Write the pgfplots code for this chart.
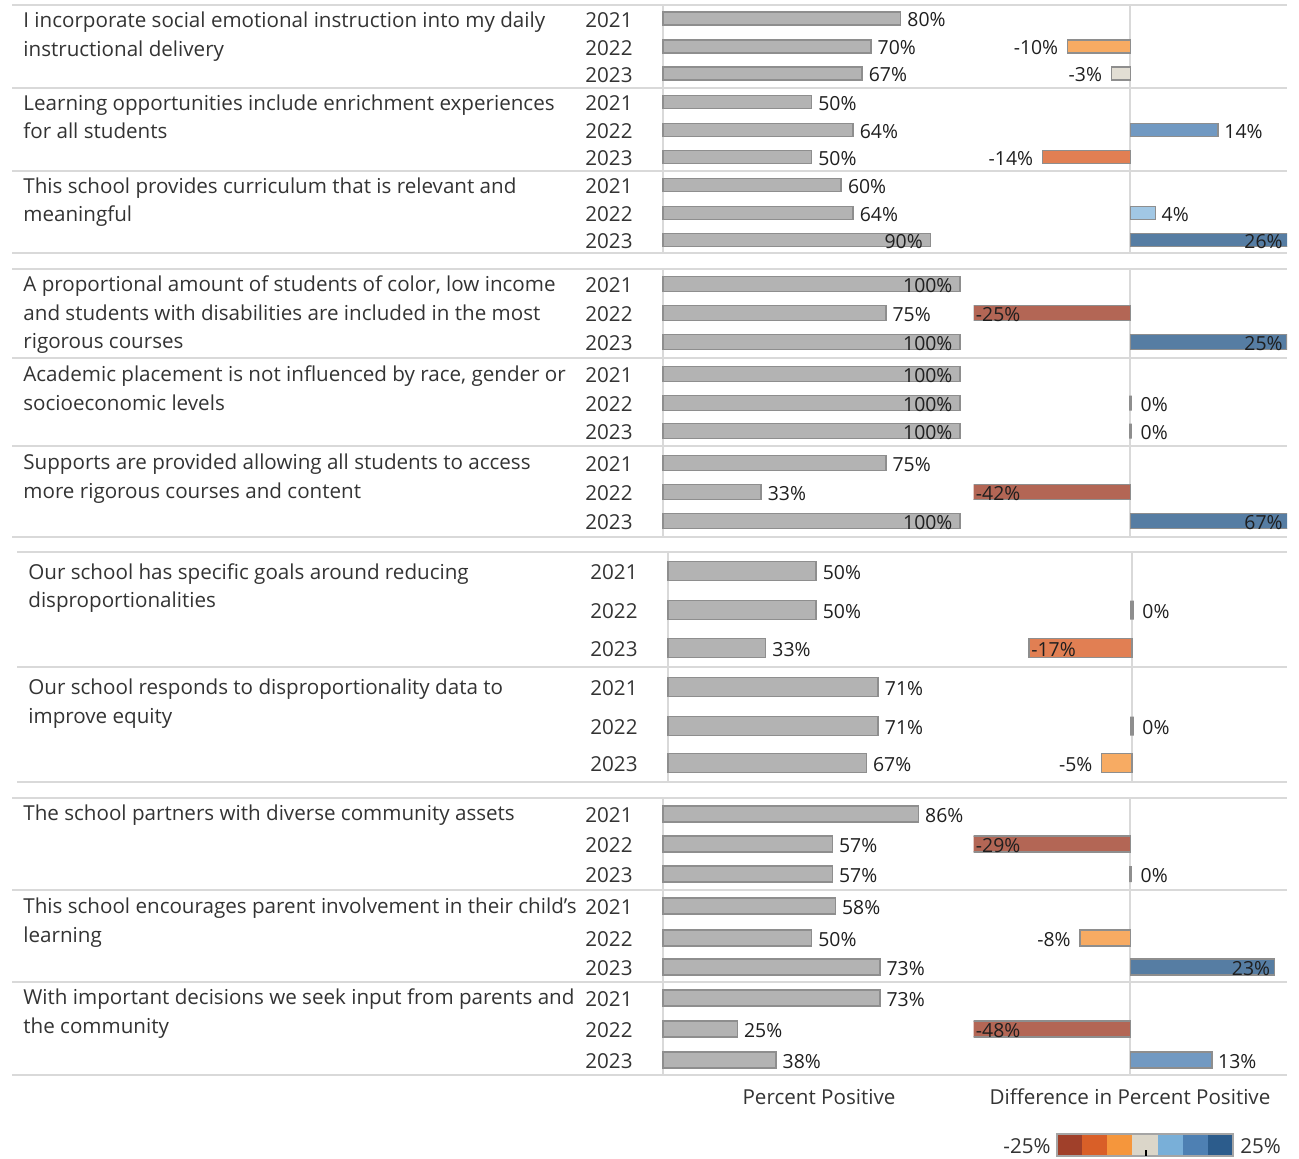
\documentclass[border=0pt]{standalone}
\usepackage{fontspec}
\setmainfont{Open Sans}
\usepackage{pgfplots}
\pgfplotsset{compat=1.18}

\definecolor{barfill}{HTML}{B3B3B3}
\definecolor{barline}{HTML}{8E8E8E}
\definecolor{gridc}{HTML}{D9D9D9}
\definecolor{txtc}{HTML}{333333}
\definecolor{lblc}{HTML}{1F1F1F}
\definecolor{L1}{HTML}{A0402A}
\definecolor{L2}{HTML}{D95F28}
\definecolor{L3}{HTML}{F5963C}
\definecolor{L4}{HTML}{DBD6C9}
\definecolor{L5}{HTML}{79AFD8}
\definecolor{L6}{HTML}{4E80B3}
\definecolor{L7}{HTML}{2C5C8C}
\colorlet{dR}{L1!80!white}
\colorlet{dO}{L2!80!white}
\colorlet{lO}{L3!80!white}
\colorlet{Nn}{L4!80!white}
\colorlet{lB}{L5!70!white}
\colorlet{mB}{L6!80!white}
\colorlet{dB}{L7!80!white}

\pgfplotsset{
  base/.style={scale only axis, hide axis, y dir=reverse, xbar, bar shift=0pt, anchor=north west},
  pct/.style={base, xmin=0, xmax=100, clip=false},
  dif/.style={base, xmin=-25, xmax=25, clip=true},
  pbar/.style={draw=barline, fill=barfill, line width=0.75pt},
  dbar/.style={draw=barline, line width=0.75pt},
  zbar/.style={draw=barline, fill=barline, line width=1.7pt},
}
\tikzset{lbl/.style={inner sep=0pt, text=lblc, yshift=-0.6pt, font=\fontsize{9.7}{11}\selectfont}}
% percent labels
\newcommand\po[3]{\node[lbl,anchor=west,xshift=3.2pt] at (axis cs:#1,#2) {#3};}
\newcommand\pin[3]{\node[lbl,anchor=east,xshift=-3.6pt] at (axis cs:#1,#2) {#3};}
% difference labels
\newcommand\dl[3]{\node[lbl,anchor=east,xshift=-4.5pt] at (axis cs:#1,#2) {#3};}
\newcommand\dr[3]{\node[lbl,anchor=west,xshift=3pt] at (axis cs:#1,#2) {#3};}
\newcommand\dil[3]{\node[lbl,anchor=west,xshift=1pt] at (axis cs:#1,#2) {#3};}
\newcommand\dir[3]{\node[lbl,anchor=east,xshift=-2pt] at (axis cs:#1,#2) {#3};}
\newcommand\db[3]{\addplot[dbar, fill=#1] coordinates {(#2,#3)};}
\newcommand\dz[1]{\addplot[zbar] coordinates {(0,#1)};\node[lbl,anchor=west,xshift=5pt] at (axis cs:0,#1) {0\%};}

\begin{document}
\begin{tikzpicture}[font=\fontsize{10.3}{12}\selectfont]
\begin{scope}[x=0.5pt,y=-0.5pt]
\useasboundingbox (0,0) rectangle (1299,1158);
\foreach \yy in {5,88,171,253,269,358,446,537,798,890,982,1075}
  \draw[gridc,line width=0.8pt] (12,\yy)--(1287,\yy);
\foreach \yy in {552,667,782}
  \draw[gridc,line width=0.8pt] (17,\yy)--(1287,\yy);
\foreach \a/\b in {5/253,269/537,798/1075}{
  \draw[gridc,line width=0.7pt] (663,\a)--(663,\b);
  \draw[gridc,line width=0.7pt] (1130,\a)--(1130,\b);}
\draw[gridc,line width=0.7pt] (668,552)--(668,782);
\draw[gridc,line width=0.7pt] (1132,552)--(1132,782);
\end{scope}

% ---------------- Panel 1 ----------------
\begin{axis}[pct, at={(331.5pt,-2.5pt)}, width=148.5pt, height=124pt, ymin=5, ymax=253, bar width=13]
\addplot[pbar] coordinates {(80,18.5) (70,46.5) (67,73.5) (50,102) (64,130) (50,157) (60,185) (64,213) (90,240)};
\po{80}{18.5}{80\%}\po{70}{46.5}{70\%}\po{67}{73.5}{67\%}
\po{50}{102}{50\%}\po{64}{130}{64\%}\po{50}{157}{50\%}
\po{60}{185}{60\%}\po{64}{213}{64\%}\pin{90}{240}{90\%}
\end{axis}
\begin{axis}[dif, at={(486.75pt,-2.5pt)}, width=156.75pt, height=124pt, ymin=5, ymax=253, bar width=13]
\db{lO}{-10}{46.5}\dl{-10}{46.5}{-10\%}
\db{Nn}{-3}{73.5}\dl{-3}{73.5}{-3\%}
\db{mB}{14}{130}\dr{14}{130}{14\%}
\db{dO}{-14}{157}\dl{-14}{157}{-14\%}
\db{lB}{4}{213}\dr{4}{213}{4\%}
\db{dB}{26}{240}\dir{25}{240}{26\%}
\end{axis}

% ---------------- Panel 2 ----------------
\begin{axis}[pct, at={(331.5pt,-134.5pt)}, width=148.5pt, height=134pt, ymin=269, ymax=537, bar width=15]
\addplot[pbar] coordinates {(100,284) (75,313) (100,342) (100,374) (100,403) (100,431) (75,463) (33,492) (100,521)};
\pin{100}{284}{100\%}\po{75}{313}{75\%}\pin{100}{342}{100\%}
\pin{100}{374}{100\%}\pin{100}{403}{100\%}\pin{100}{431}{100\%}
\po{75}{463}{75\%}\po{33}{492}{33\%}\pin{100}{521}{100\%}
\end{axis}
\begin{axis}[dif, at={(486.75pt,-134.5pt)}, width=156.75pt, height=134pt, ymin=269, ymax=537, bar width=15]
\db{dR}{-25}{313}\dil{-25}{313}{-25\%}
\db{dB}{25}{342}\dir{25}{342}{25\%}
\dz{403}
\dz{431}
\db{dR}{-42}{492}\dil{-25}{492}{-42\%}
\db{dB}{67}{521}\dir{25}{521}{67\%}
\end{axis}

% ---------------- Panel 3 ----------------
\begin{axis}[pct, at={(334pt,-276pt)}, width=148pt, height=115pt, ymin=552, ymax=782, bar width=19]
\addplot[pbar] coordinates {(50,571) (50,610) (33,648) (71,687) (71,726) (67,763)};
\po{50}{571}{50\%}\po{50}{610}{50\%}\po{33}{648}{33\%}
\po{71}{687}{71\%}\po{71}{726}{71\%}\po{67}{763}{67\%}
\end{axis}
\begin{axis}[dif, at={(490.25pt,-276pt)}, width=151.5pt, height=115pt, ymin=552, ymax=782, bar width=19]
\dz{610}
\db{dO}{-17}{648}\dil{-17}{648}{-17\%}
\dz{726}
\db{lO}{-5}{763}\dl{-5}{763}{-5\%}
\end{axis}

% ---------------- Panel 4 ----------------
\begin{axis}[pct, at={(331.5pt,-399pt)}, width=148.5pt, height=138.5pt, ymin=798, ymax=1075, bar width=16]
\addplot[pbar] coordinates {(86,814) (57,844) (57,874) (58,906) (50,938) (73,967) (73,998) (25,1029) (38,1060)};
\po{86}{814}{86\%}\po{57}{844}{57\%}\po{57}{874}{57\%}
\po{58}{906}{58\%}\po{50}{938}{50\%}\po{73}{967}{73\%}
\po{73}{998}{73\%}\po{25}{1029}{25\%}\po{38}{1060}{38\%}
\end{axis}
\begin{axis}[dif, at={(486.75pt,-399pt)}, width=156.75pt, height=138.5pt, ymin=798, ymax=1075, bar width=16]
\db{dR}{-29}{844}\dil{-25}{844}{-29\%}
\dz{874}
\db{lO}{-8}{938}\dl{-8}{938}{-8\%}
\db{dB}{23}{967}\dir{23}{967}{23\%}
\db{dR}{-48}{1029}\dil{-25}{1029}{-48\%}
\db{mB}{13}{1060}\dr{13}{1060}{13\%}
\end{axis}

% ---------------- Text ----------------
\begin{scope}[x=0.5pt,y=-0.5pt, every node/.style={inner sep=0pt, text=txtc}]
\newcommand\q[3]{\node[anchor=base west] at (#1,#2+7) {#3};}
% questions
\q{23}{20}{I incorporate social emotional instruction into my daily}
\q{23}{49}{instructional delivery}
\q{23}{103}{Learning opportunities include enrichment experiences}
\q{23}{131}{for all students}
\q{23}{186}{This school provides curriculum that is relevant and}
\q{23}{214}{meaningful}
\q{23}{284}{A proportional amount of students of color, low income}
\q{23}{313}{and students with disabilities are included in the most}
\q{23}{341}{rigorous courses}
\q{23}{374}{Academic placement is not influenced by race, gender or}
\q{23}{403}{socioeconomic levels}
\q{23}{462}{Supports are provided allowing all students to access}
\q{23}{491}{more rigorous courses and content}
\q{28}{572}{Our school has specific goals around reducing}
\q{28}{600}{disproportionalities}
\q{28}{687}{Our school responds to disproportionality data to}
\q{28}{716}{improve equity}
\q{23}{813}{The school partners with diverse community assets}
\q{23}{906}{This school encourages parent involvement in their child’s}
\q{23}{935}{learning}
\q{23}{997}{With important decisions we seek input from parents and}
\q{23}{1026}{the community}
% years
\foreach \yy/\t in {18.5/2021,46.5/2022,73.5/2023,102/2021,130/2022,157/2023,185/2021,213/2022,240/2023,
  284/2021,313/2022,342/2023,374/2021,403/2022,431/2023,463/2021,492/2022,521/2023,
  814/2021,844/2022,874/2023,906/2021,938/2022,967/2023,998/2021,1029/2022,1060/2023}
  \node[anchor=west] at (585,\yy+1.5) {\t};
\foreach \yy/\t in {571/2021,610/2022,648/2023,687/2021,726/2022,763/2023}
  \node[anchor=west] at (590,\yy+1.5) {\t};
% captions
\node[anchor=base] at (819,1104) {Percent Positive};
\node[anchor=base] at (1130,1104) {Difference in Percent Positive};
% colour legend
\node[anchor=east] at (1051,1146) {-25\%};
\node[anchor=west] at (1240,1146) {25\%};
\foreach \c [count=\i from 0] in {L1,L2,L3,L4,L5,L6,L7}
  \fill[\c] ({1057+\i*176/7},1134) rectangle ({1057+(\i+1)*176/7},1156);
\draw[color=barline!80!white,line width=0.8pt] (1057,1134) rectangle (1233,1156);
\draw[black,line width=0.6pt] (1146,1150)--(1146,1156);
\end{scope}
\end{tikzpicture}
\end{document}
